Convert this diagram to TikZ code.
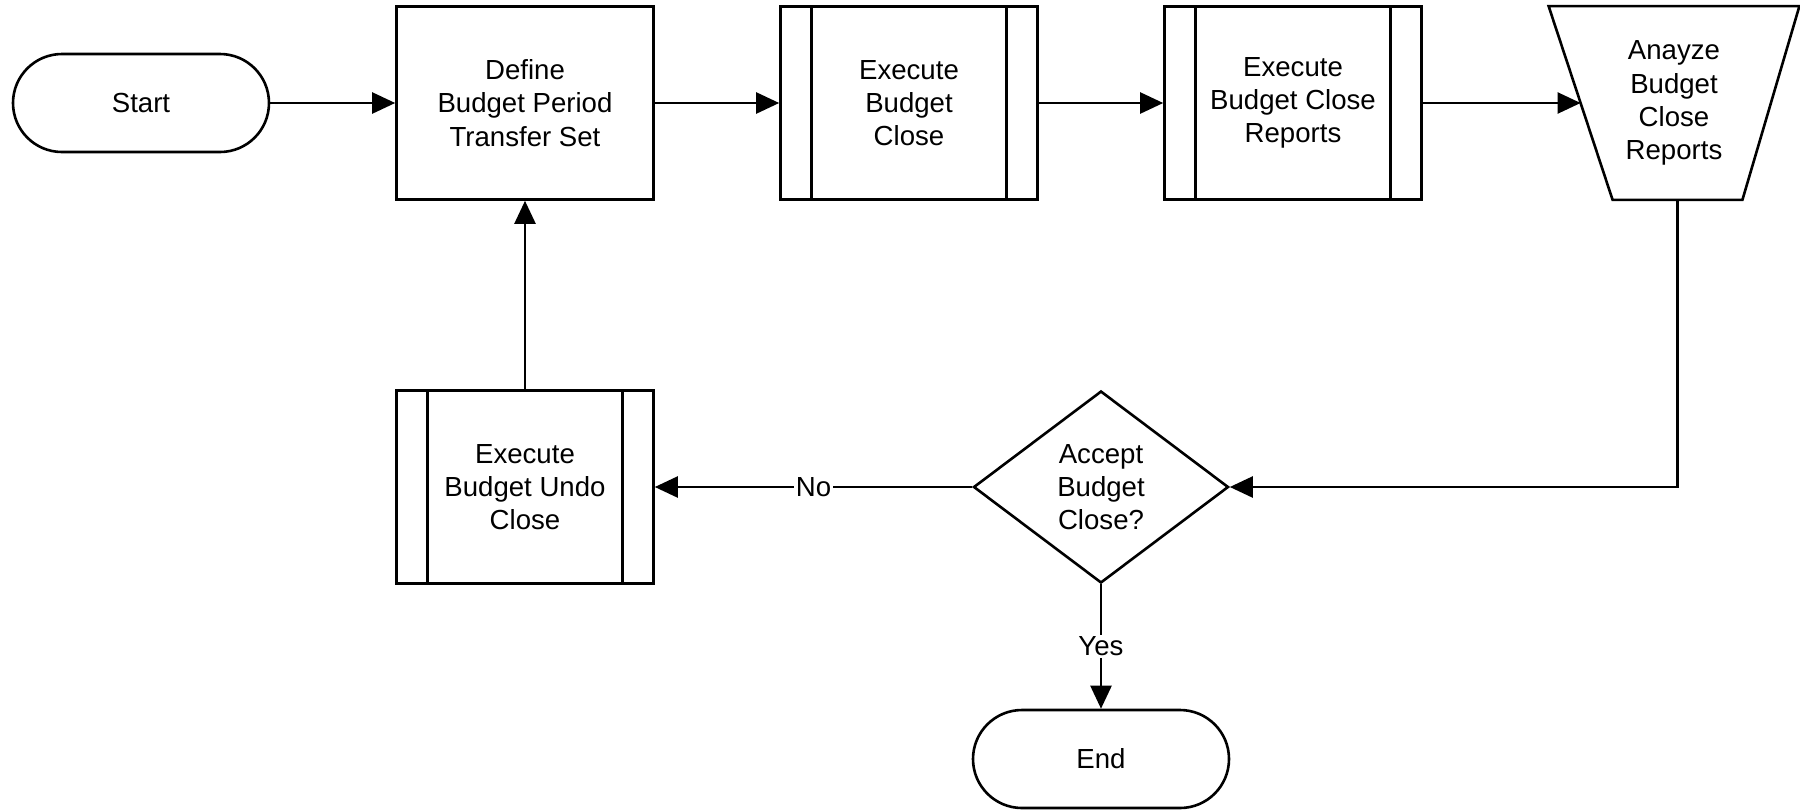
\documentclass[tikz,border=0pt]{standalone}
\usepackage{fontspec}
\setmainfont{Liberation Sans}
\usetikzlibrary{shapes.geometric,shapes.misc,arrows.meta}
\begin{document}
\begin{tikzpicture}[x=0.5pt,y=-0.5pt,
  every node/.style={font=\fontsize{13.8}{16.6}\selectfont, align=center, text=black},
  shape line/.style={line width=1.3pt},
  terminal/.style={draw, shape line, rounded rectangle, minimum width=128pt, minimum height=49pt, inner sep=0pt},
  process/.style={draw, shape line, rectangle, minimum width=128.5pt, minimum height=96.5pt, inner sep=0pt},
  decision/.style={draw, shape line, diamond, minimum width=127.5pt, minimum height=96pt, inner sep=0pt},
  flow/.style={line width=1.2pt, -{Triangle[length=11.5pt,width=10.5pt]}},
  branch/.style={fill=white, inner sep=1pt}
]
% page frame
\useasboundingbox (0,0) rectangle (1800,810);

% nodes
\node[terminal] (start) at (141,103) {Start};
\node[process]  (define) at (525,103) {Define\\Budget Period\\Transfer Set};
\node[process]  (exec) at (909,103) {Execute\\Budget\\Close};
\node[process]  (reports) at (1293,103) {Execute\\Budget Close\\Reports};
\node[minimum width=125pt, minimum height=96.5pt, inner sep=0pt] (analyze) at (1674,103)
  {Anayze\\Budget\\Close\\Reports};
\node[process]  (undo) at (525,487) {Execute\\Budget Undo\\Close};
\node[decision] (accept) at (1101,487) {Accept\\Budget\\Close?};
\node[terminal] (end) at (1101,759) {End};

% manual-operation outline of the analysis step
\draw[shape line] (analyze.north west) -- (analyze.north east)
  -- ([xshift=-28.5pt]analyze.south east) -- ([xshift=32pt]analyze.south west) -- cycle;
\coordinate (anIn) at ([xshift=16pt]analyze.west);
\coordinate (anOut) at ([xshift=1.75pt]analyze.south);

% predefined-process side bars
\foreach \n in {exec,reports,undo}{
  \draw[shape line] ([xshift=16.25pt]\n.north west) -- ([xshift=16.25pt]\n.south west);
  \draw[shape line] ([xshift=-16.25pt]\n.north east) -- ([xshift=-16.25pt]\n.south east);
}

% connectors
\draw[flow] (start.east) -- (define.west);
\draw[flow] (define.east) -- (exec.west);
\draw[flow] (exec.east) -- (reports.west);
\draw[flow] (reports.east) -- (anIn);
\draw[flow] (anOut) |- (accept.east);
\draw[flow] (accept.west) -- node[branch] {No} (undo.east);
\draw[flow] (accept.south) -- node[branch] {Yes} (end.north);
\draw[flow] (undo.north) -- (define.south);
\end{tikzpicture}
\end{document}
